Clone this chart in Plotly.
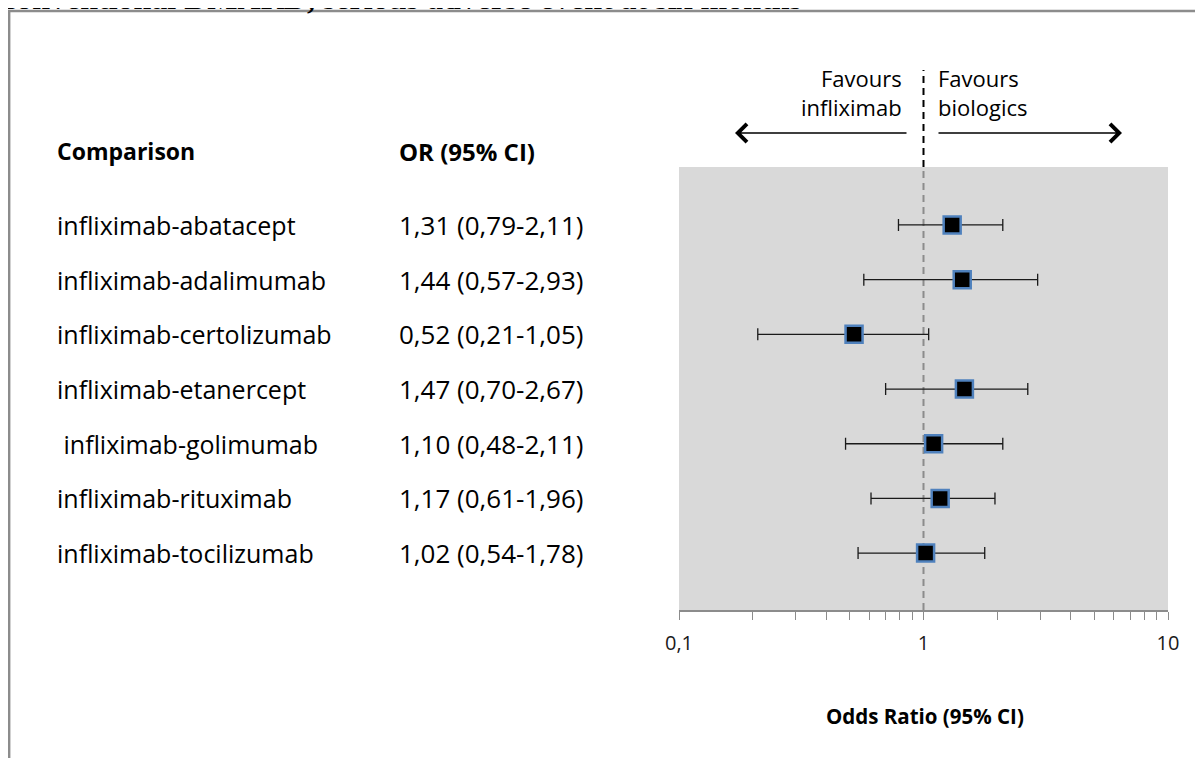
import plotly.graph_objects as go

# ---- data ----
comparisons = [
    "infliximab-abatacept",
    "infliximab-adalimumab",
    "infliximab-certolizumab",
    "infliximab-etanercept",
    " infliximab-golimumab",
    "infliximab-rituximab",
    "infliximab-tocilizumab",
]
or_vals = [1.31, 1.44, 0.52, 1.47, 1.10, 1.17, 1.02]
ci_low = [0.79, 0.57, 0.21, 0.70, 0.48, 0.61, 0.54]
ci_high = [2.11, 2.93, 1.05, 2.67, 2.11, 1.96, 1.78]
tick_vals = [0.1, 1, 10]
tick_text = ["0,1", "1", "10"]
title_text = "conventional DMARD, serious adverse event at six months"

# ---- layout geometry (page pixels; page body has an 8px margin) ----
OFF = 8
W, H = 1203 - OFF, 758 - OFF
PL, PR, PT, PB = 679, 1168, 167, 610
pw, ph = PR - PL, PB - PT


def px(x):
    return (x - PL) / pw


def py(y):
    return (PB - y) / ph


def fmt(v):
    return f"{v:.2f}".replace(".", ",")


or_text = [f"{fmt(o)} ({fmt(l)}-{fmt(h)})" for o, l, h in zip(or_vals, ci_low, ci_high)]
idx = list(range(len(comparisons)))

FONT = "Open Sans"

fig = go.Figure()
fig.add_trace(go.Scatter(
    x=or_vals, y=idx, mode="markers",
    marker=dict(symbol="square", size=17, color="black",
                line=dict(color="#4f81bd", width=2.5)),
    error_x=dict(type="data", symmetric=False,
                 array=[h - o for o, h in zip(or_vals, ci_high)],
                 arrayminus=[o - l for o, l in zip(or_vals, ci_low)],
                 color="#1a1a1a", thickness=1.3, width=6),
    showlegend=False, hoverinfo="skip", cliponaxis=False,
))

annotations = []
# headers
annotations.append(dict(x=px(55), y=py(151), xref="paper", yref="paper", text="<b>Comparison</b>",
                        showarrow=False, xanchor="left", yanchor="middle",
                        font=dict(family=FONT, size=23, color="black")))
annotations.append(dict(x=px(397), y=py(151), xref="paper", yref="paper", text="<b>OR (95% CI)</b>",
                        showarrow=False, xanchor="left", yanchor="middle",
                        font=dict(family=FONT, size=24, color="black")))
for i, (c, t) in enumerate(zip(comparisons, or_text)):
    annotations.append(dict(x=px(55), y=i, xref="paper", yref="y",
                            text=c.replace(" ", "\u00a0"),
                            showarrow=False, xanchor="left", yanchor="middle",
                            font=dict(family=FONT, size=25, color="black")))
    annotations.append(dict(x=px(397), y=i, xref="paper", yref="y", text=t,
                            showarrow=False, xanchor="left", yanchor="middle",
                            font=dict(family=FONT, size=26, color="black")))

# favours labels
annotations.append(dict(x=px(904), y=py(92), xref="paper", yref="paper",
                        text="Favours<br>infliximab", align="right",
                        showarrow=False, xanchor="right", yanchor="middle",
                        font=dict(family=FONT, size=22, color="black")))
annotations.append(dict(x=px(936), y=py(92), xref="paper", yref="paper",
                        text="Favours<br>biologics", align="left",
                        showarrow=False, xanchor="left", yanchor="middle",
                        font=dict(family=FONT, size=22, color="black")))
# arrows
annotations.append(dict(x=px(735), y=py(133), xref="paper", yref="paper", text="",
                        showarrow=True, ax=173, ay=0, axref="pixel", ayref="pixel",
                        arrowhead=4, arrowsize=2.2, arrowwidth=1.6, arrowcolor="black"))
annotations.append(dict(x=px(1122), y=py(133), xref="paper", yref="paper", text="",
                        showarrow=True, ax=-185, ay=0, axref="pixel", ayref="pixel",
                        arrowhead=4, arrowsize=2.2, arrowwidth=1.6, arrowcolor="black"))
# axis title
annotations.append(dict(x=px(925), y=py(716), xref="paper", yref="paper",
                        text="<b>Odds Ratio (95% CI)</b>",
                        showarrow=False, xanchor="center", yanchor="middle",
                        font=dict(family=FONT, size=20.5, color="black")))
# cut-off title at top
annotations.append(dict(x=px(0), y=py(18), xref="paper", yref="paper",
                        text="<b>" + title_text + "</b>",
                        showarrow=False, xanchor="left", yanchor="bottom",
                        font=dict(family="Liberation Serif", size=32, color="black")))

shapes = [
    # reference line at OR = 1 (inside plot)
    dict(type="line", xref="x", yref="paper", x0=1, x1=1, y0=0, y1=1,
         line=dict(color="#8c8c8c", width=2, dash="7px,5px"), layer="below"),
    # reference line above plot
    dict(type="line", xref="x", yref="paper", x0=1, x1=1, y0=1, y1=py(70),
         line=dict(color="black", width=2, dash="7px,5px")),
    # frame
    dict(type="line", xref="paper", yref="paper", x0=px(9.2), x1=px(9.2), y0=py(11), y1=py(780),
         line=dict(color="#8c8c8c", width=2.4)),
    dict(type="line", xref="paper", yref="paper", x0=px(8), x1=px(1230), y0=py(11), y1=py(11),
         line=dict(color="#8c8c8c", width=2.4)),
]

fig.update_layout(
    width=W, height=H,
    margin=dict(l=PL - OFF, r=(W + OFF) - PR, t=PT - OFF, b=(H + OFF) - PB, pad=0),
    paper_bgcolor="white", plot_bgcolor="#d9d9d9",
    showlegend=False,
    annotations=annotations, shapes=shapes,
    xaxis=dict(type="log", range=[-1, 1], tickvals=tick_vals, ticktext=tick_text,
               showgrid=False, zeroline=False, showline=True, linecolor="#8c8c8c", linewidth=1.5,
               ticks="outside", ticklen=8, tickwidth=1.3, tickcolor="#8c8c8c",
               ticklabelstandoff=6,
               tickfont=dict(family=FONT, size=20, color="#1a1a1a"),
               minor=dict(dtick="D1", ticks="outside", ticklen=8, tickwidth=1.3,
                          tickcolor="#8c8c8c", showgrid=False),
               fixedrange=True),
    yaxis=dict(range=[len(comparisons) - 1 + 1.04, -1.06], showgrid=False, zeroline=False,
               showticklabels=False, showline=False, ticks="", fixedrange=True),
)

fig.write_html("out.html")
